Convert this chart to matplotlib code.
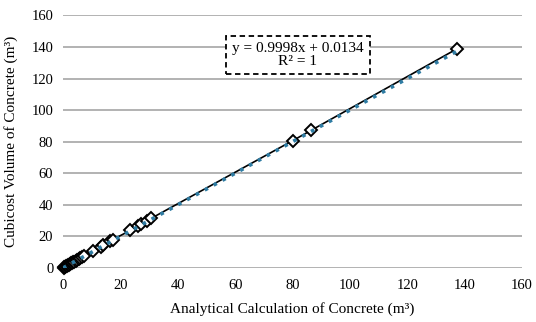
import matplotlib
matplotlib.use("Agg")
import matplotlib.pyplot as plt
import numpy as np

plt.rcParams['font.family'] = ['Liberation Serif', 'DejaVu Serif']

analytical = [0.2, 0.4, 0.7, 1.0, 1.3, 1.6, 2.0, 2.4, 2.8, 3.2, 3.6, 4.0, 4.5,
              5.0, 5.5, 6.0, 6.6, 7.2, 10.3, 13.2, 14.0, 16.5, 17.3, 23.5,
              26.0, 27.3, 29.3, 30.8, 80.0, 86.5, 137.5]
cubicost = [0.2, 0.5, 0.8, 1.1, 1.4, 1.7, 2.1, 2.5, 2.9, 3.3, 3.7, 4.1, 4.6,
            5.1, 5.6, 6.1, 6.8, 7.4, 10.5, 13.6, 14.4, 17.0, 18.0, 23.8,
            26.5, 27.8, 29.8, 31.5, 80.6, 87.2, 139.0]
xticks = [0, 20, 40, 60, 80, 100, 120, 140, 160]
yticks = [0, 20, 40, 60, 80, 100, 120, 140, 160]
slope, intercept = 0.9998, 0.0134

fig = plt.figure(figsize=(5.36, 3.22), dpi=100)
ax = fig.add_axes([63/536, 1-268/322, (522-63)/536, (268-15.4)/322])

ax.set_xlim(0, 160)
ax.set_ylim(0, 160)
ax.set_xticks(xticks)
ax.set_yticks(yticks)
ax.yaxis.grid(True, color='#a6a6a6', linewidth=1.2)
ax.set_axisbelow(True)
for s in ax.spines.values():
    s.set_visible(False)
ax.tick_params(length=0, labelsize=10.5, pad=7)
ax.tick_params(axis='x', pad=8)

order = np.argsort(analytical)
xs = np.array(analytical)[order]
ys = np.array(cubicost)[order]
ax.plot(xs, ys, color='black', linewidth=1.2, marker='D', markersize=6.5,
        markerfacecolor='white', markeredgecolor='black', markeredgewidth=1.4,
        zorder=3, clip_on=False)

tx = np.array([0, max(analytical)])
ax.plot(tx, slope*tx + intercept, color='#2f7ca3', linestyle=(0, (1, 1.8)),
        linewidth=2.6, zorder=4)

ax.text(298/536, 1-55/322, "y = 0.9998x + 0.0134\nR² = 1", transform=fig.transFigure,
        ha='center', va='center', fontsize=11, linespacing=1.05,
        bbox=dict(boxstyle='square,pad=0.4', facecolor='white',
                  edgecolor='black', linestyle=(0, (3, 2)), linewidth=1.3),
        zorder=5)

ax.set_xlabel("Analytical Calculation of Concrete (m³)", fontsize=11, labelpad=7)
ax.set_ylabel("Cubicost Volume of Concrete (m³)", fontsize=11, labelpad=10)

fig.savefig("out.png", dpi=100)
